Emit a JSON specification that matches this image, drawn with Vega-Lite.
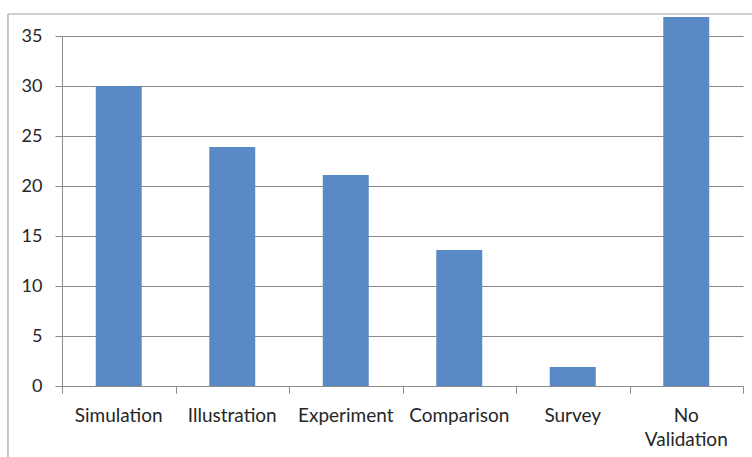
{
  "$schema": "https://vega.github.io/schema/vega-lite/v6.json",
  "width": 681,
  "height": 350,
  "autosize": "none",
  "padding": {"left": 62, "top": 36, "right": 9, "bottom": 71},
  "background": "white",
  "config": {"view": {"stroke": null}, "font": "Lato"},
  "layer": [
    {
      "data": {"values": [
        {"method": "Simulation", "value": 30},
        {"method": "Illustration", "value": 23.9},
        {"method": "Experiment", "value": 21.1},
        {"method": "Comparison", "value": 13.6},
        {"method": "Survey", "value": 1.9},
        {"method": "No Validation", "value": 36.9}
      ]},
      "mark": {"type": "bar", "color": "#5a8ac6"},
      "encoding": {
        "x": {
          "field": "method", "type": "nominal", "sort": null,
          "scale": {"paddingInner": 0.595, "paddingOuter": 0.2975},
          "axis": {
            "title": null, "domain": false, "ticks": false, "labelAngle": 0,
            "labelPadding": 20, "labelFontSize": 19, "labelColor": "#262626",
            "labelFont": "Lato", "labelLineHeight": 24, "labelBaseline": "top",
            "labelExpr": "datum.label == 'No Validation' ? ['No', 'Validation'] : datum.label"
          }
        },
        "y": {
          "field": "value", "type": "quantitative",
          "scale": {"domain": [0, 35], "nice": false},
          "axis": {
            "title": null, "values": [0, 5, 10, 15, 20, 25, 30, 35],
            "tickSize": 7, "tickColor": "#8a8a8a", "domainColor": "#8a8a8a",
            "grid": true, "gridColor": "#8a8a8a", "gridWidth": 1.2, "labelFontSize": 18,
            "labelPadding": 13, "labelColor": "#262626", "labelFont": "Lato"
          }
        }
      }
    },
    {
      "data": {"values": [{}]},
      "mark": {"type": "rule", "opacity": 0},
      "encoding": {
        "x": {
          "datum": 0, "type": "quantitative",
          "scale": {"domain": [0, 6], "nice": false},
          "axis": {
            "orient": "bottom", "title": null, "values": [0, 1, 2, 3, 4, 5, 6],
            "labels": false, "grid": false, "tickSize": 7,
            "tickColor": "#8a8a8a", "domainColor": "#8a8a8a"
          }
        }
      }
    },
    {
      "data": {"values": [{}]},
      "mark": {"type": "rule", "color": "#a0a0a0", "strokeWidth": 1.2},
      "encoding": {
        "x": {"datum": -0.476, "type": "quantitative", "scale": {"domain": [0, 6], "nice": false}, "axis": null},
        "x2": {"datum": 6.3},
        "y": {"datum": 37.2, "type": "quantitative", "scale": {"domain": [0, 35], "nice": false}}
      }
    },
    {
      "data": {"values": [{}]},
      "mark": {"type": "rule", "color": "#a0a0a0", "strokeWidth": 1.2},
      "encoding": {
        "x": {"datum": -0.476, "type": "quantitative", "scale": {"domain": [0, 6], "nice": false}, "axis": null},
        "y": {"datum": 37.2, "type": "quantitative", "scale": {"domain": [0, 35], "nice": false}},
        "y2": {"datum": -8}
      }
    }
  ],
  "resolve": {"scale": {"x": "independent"}, "axis": {"x": "independent"}}
}
